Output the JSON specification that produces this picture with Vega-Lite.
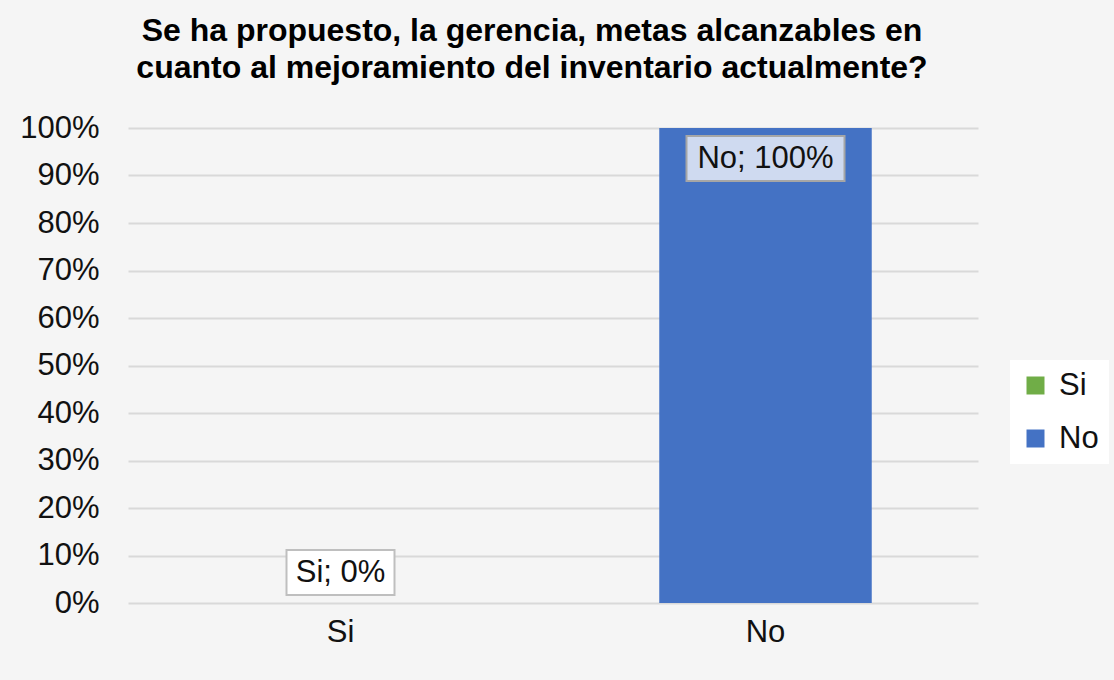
{
  "$schema": "https://vega.github.io/schema/vega-lite/v6.json",
  "autosize": "none",
  "width": 850,
  "height": 475,
  "padding": {"left": 128, "top": 128, "right": 136, "bottom": 77},
  "background": "#f5f5f5",
  "config": {
    "font": "Liberation Sans",
    "view": {"stroke": null},
    "axis": {"labelFont": "Liberation Sans", "labelColor": "#111111", "labelFontSize": 31, "labelOverlap": false}
  },
  "title": {
    "text": ["Se ha propuesto, la gerencia, metas alcanzables en", "cuanto al mejoramiento del inventario actualmente?"],
    "fontSize": 32,
    "fontWeight": "bold",
    "font": "Liberation Sans",
    "color": "#000000",
    "lineHeight": 37,
    "anchor": "middle",
    "dx": -21,
    "offset": 27
  },
  "data": {
    "values": [
      {"cat": "Si", "value": 0, "label": "Si; 0%"},
      {"cat": "No", "value": 1, "label": "No; 100%"}
    ]
  },
  "encoding": {
    "x": {
      "field": "cat",
      "type": "nominal",
      "sort": ["Si", "No"],
      "scale": {"paddingInner": 0.5, "paddingOuter": 0.25},
      "axis": {"title": null, "labelAngle": 0, "domain": false, "ticks": false, "labelPadding": 14, "grid": false}
    },
    "y": {
      "field": "value",
      "type": "quantitative",
      "scale": {"domain": [0, 1], "nice": false},
      "axis": {
        "title": null,
        "format": ".0%",
        "values": [0, 0.1, 0.2, 0.3, 0.4, 0.5, 0.6, 0.7, 0.8, 0.9, 1],
        "domain": false,
        "ticks": false,
        "labelPadding": 29,
        "gridColor": "#d9d9d9",
        "gridWidth": 2
      }
    }
  },
  "layer": [
    {
      "mark": {"type": "bar"},
      "encoding": {
        "color": {
          "field": "cat",
          "type": "nominal",
          "scale": {"domain": ["Si", "No"], "range": ["#70ad47", "#4472c4"]},
          "legend": {
            "title": null,
            "orient": "none",
            "legendX": 882,
            "legendY": 232,
            "symbolType": "square",
            "symbolSize": 324,
            "symbolStrokeWidth": 0,
            "labelFontSize": 31,
            "labelFont": "Liberation Sans",
            "labelColor": "#111111",
            "labelOffset": 8,
            "rowPadding": 21,
            "padding": 10,
            "fillColor": "#ffffff"
          }
        }
      }
    },
    {
      "transform": [{"filter": "datum.cat === 'No'"}],
      "mark": {
        "type": "point",
        "shape": "M-1,-0.285L1,-0.285L1,0.285L-1,0.285Z",
        "size": 24964,
        "filled": true,
        "fill": "#cfdaf0",
        "stroke": "#a6a6a6",
        "strokeWidth": 2,
        "opacity": 1,
        "yOffset": 30.5
      }
    },
    {
      "transform": [{"filter": "datum.cat === 'No'"}],
      "mark": {"type": "text", "fontSize": 31, "font": "Liberation Sans", "color": "#111111", "yOffset": 31, "baseline": "middle"},
      "encoding": {"text": {"field": "label"}}
    },
    {
      "transform": [{"filter": "datum.cat === 'Si'"}],
      "mark": {
        "type": "point",
        "shape": "M-1,-0.4167L1,-0.4167L1,0.4167L-1,0.4167Z",
        "size": 11664,
        "filled": true,
        "fill": "#ffffff",
        "stroke": "#bfbfbf",
        "strokeWidth": 2,
        "opacity": 1,
        "yOffset": -30.5
      }
    },
    {
      "transform": [{"filter": "datum.cat === 'Si'"}],
      "mark": {"type": "text", "fontSize": 31, "font": "Liberation Sans", "color": "#111111", "yOffset": -30, "baseline": "middle"},
      "encoding": {"text": {"field": "label"}}
    }
  ]
}
